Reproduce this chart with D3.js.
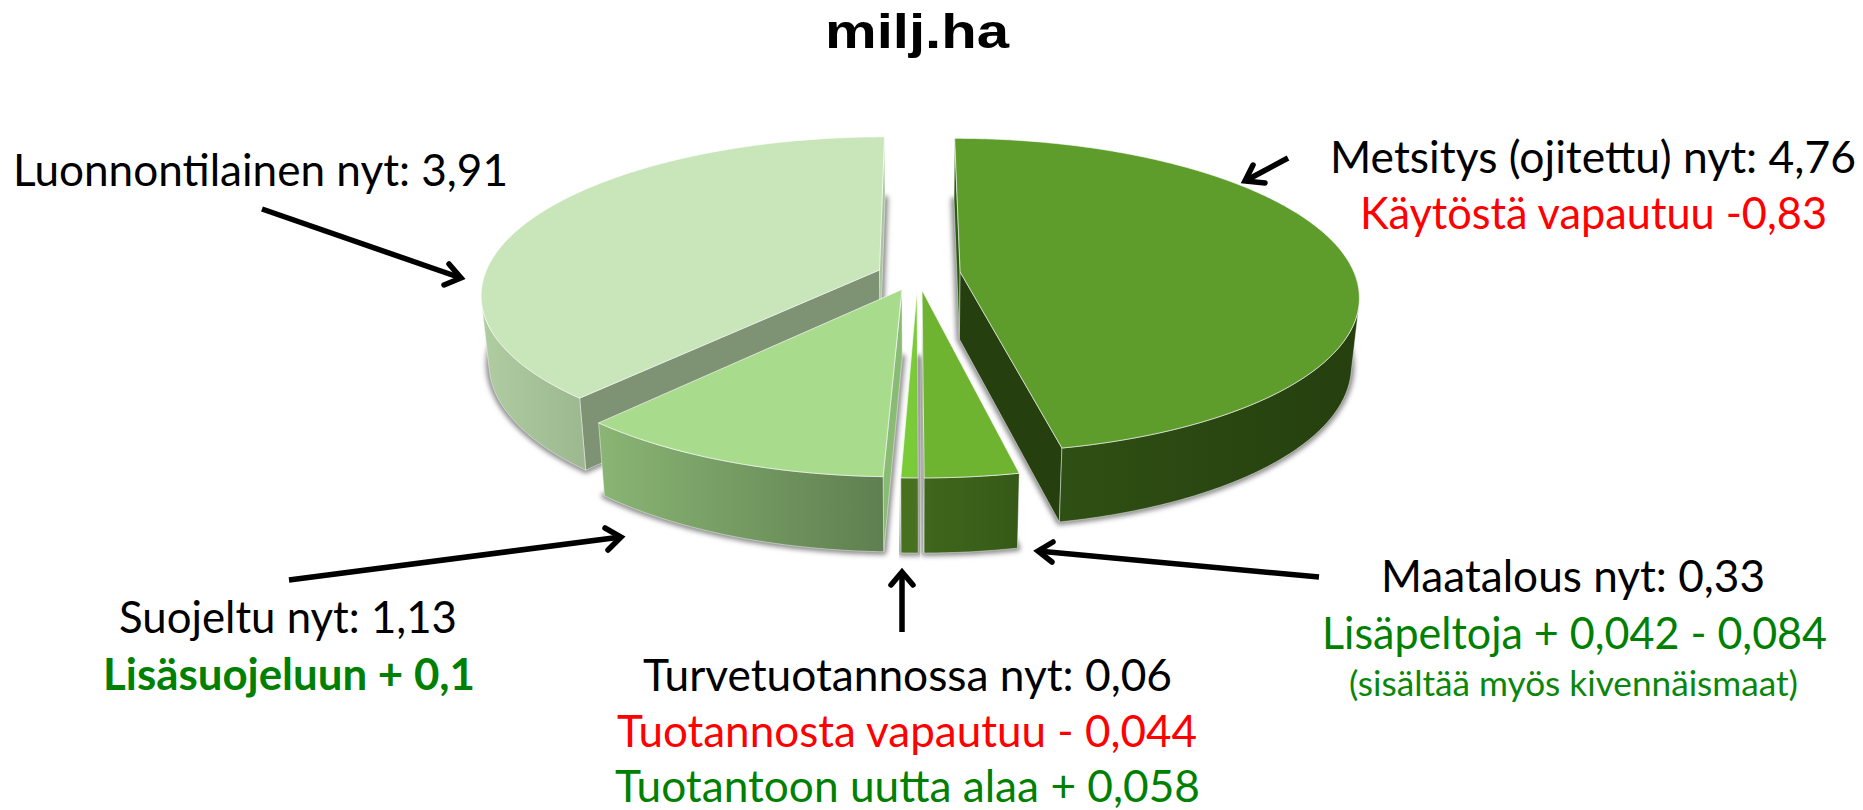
<!DOCTYPE html>
<html>
<head>
<meta charset="utf-8">
<title>milj.ha</title>
<script src="https://cdn.jsdelivr.net/npm/d3@7"></script>
<style>
html, body { margin: 0; padding: 0; background: #fff; overflow: hidden; }
svg { display: block; }
</style>
</head>
<body>
<div id="chart"></div>
<script>
// data, clockwise from 12 o'clock
const categories = ["Metsitys (ojitettu)", "Maatalous", "Turvetuotannossa", "Suojeltu", "Luonnontilainen"];
const values = [4.76, 0.33, 0.06, 1.13, 3.91];

const titleText = "milj.ha";
const labelTexts = [
    "Luonnontilainen nyt: 3,91",
    "Metsitys (ojitettu) nyt: 4,76",
    "Käytöstä vapautuu -0,83",
    "Suojeltu nyt: 1,13",
    "Lisäsuojeluun + 0,1",
    "Turvetuotannossa nyt: 0,06",
    "Tuotannosta vapautuu - 0,044",
    "Tuotantoon uutta alaa + 0,058",
    "Maatalous nyt: 0,33",
    "Lisäpeltoja + 0,042 - 0,084",
    "(sisältää myös kivennäismaat)"
];

// layout and styles
const width = 1863, height = 810;
const cx = 918, cy = 270, radiusX = 393, radiusY = 153, persp = 0.149;
const depth = 67, bottomShrink = 0.982;
const drawOrder = [4, 0, 3, 2, 1];
const explode = [[0.107, 0.013], [0.01, 0.13], [-0.0025, 0.13], [-0.04, 0.125], [-0.098, 0]];
const topColors = ["#5e9c2b", "#6fb431", "#7acb38", "#a8db8c", "#c8e6b9"];
const rimColors = [["#2f5014", "#253f0e"], ["#40661c", "#355a18"], ["#47711f", "#47711f"], ["#8ab574", "#5f7f50"], ["#b0cda2", "#9db98f"]];
const startWallColors = ["#2d5a12", "#3a6418", "#47711f", "#8abb74", "#7e9274"];
const endWallColors = ["#253f0e", "#355a18", "#47711f", "#7e9274", "#a9c59b"];

const labelStyle = [
    { x0: 13, x1: 508, y: 186, size: 44, color: "#000" },
    { x0: 1330, x1: 1856, y: 173, size: 44, color: "#000" },
    { x0: 1360, x1: 1827, y: 229, size: 44, color: "#f00" },
    { x0: 119, x1: 457, y: 633, size: 44, color: "#000" },
    { x0: 103, x1: 475, y: 690, size: 44, color: "#008000", weight: 700 },
    { x0: 643, x1: 1172, y: 691, size: 44, color: "#000" },
    { x0: 617, x1: 1197, y: 747, size: 44, color: "#f00" },
    { x0: 615, x1: 1200, y: 802, size: 44, color: "#008000" },
    { x0: 1381, x1: 1765, y: 592, size: 44, color: "#000" },
    { x0: 1322, x1: 1827, y: 649, size: 44, color: "#008000" },
    { x0: 1349, x1: 1798, y: 696, size: 34, color: "#0a860a" }
];

const arrows = [
    { from: [262, 209], tip: [461, 278], barbs: [[449, 264], [444, 285]] },
    { from: [1288, 158], tip: [1245, 181], barbs: [[1253, 165], [1265, 183]] },
    { from: [289, 580], tip: [621, 537], barbs: [[605, 528], [608, 550]] },
    { from: [902, 632], tip: [902, 572], barbs: [[891, 585], [913, 585]] },
    { from: [1319, 577], tip: [1038, 551], barbs: [[1053, 542], [1052, 562]] }
];

const svg = d3.select("#chart").append("svg")
    .attr("width", width)
    .attr("height", height);

const defs = svg.append("defs");
const shadow = defs.append("filter")
    .attr("id", "soft")
    .attr("x", "-10%").attr("y", "-10%")
    .attr("width", "120%").attr("height", "120%");
shadow.append("feGaussianBlur").attr("stdDeviation", 2.5);

// ground plane -> screen, a simple perspective through linear scales
const x = d3.scaleLinear().domain([-1, 1]).range([cx - radiusX, cx + radiusX]);
const y = d3.scaleLinear().domain([-1, 1]).range([cy - radiusY, cy + radiusY]);

function project(u, v) {
    const f = 1 / (1 - persp * v);
    return [x(u * f), y(v * f), f];
}
function topPoint(u, v) {
    const p = project(u, v);
    return [p[0], p[1]];
}
function bottomPoint(u, v) {
    const p = project(u, v);
    return [cx + (p[0] - cx) * bottomShrink, p[1] + depth * (1 + 0.6 * (p[2] - 1))];
}

const pie = d3.pie().sort(null).value(d => d).startAngle(0).endAngle(2 * Math.PI);
const arcs = pie(values);
const line = d3.line();
const closed = pts => line(pts) + "Z";

function quad(a, b) {
    return [topPoint(a[0], a[1]), topPoint(b[0], b[1]), bottomPoint(b[0], b[1]), bottomPoint(a[0], a[1])];
}

drawOrder.forEach(i => {
    const a = arcs[i];
    const [ox, oy] = explode[i];
    const steps = Math.max(2, Math.ceil((a.endAngle - a.startAngle) / 0.01));
    const rim = d3.range(steps + 1).map(s => {
        const t = a.startAngle + (a.endAngle - a.startAngle) * s / steps;
        return [ox + Math.sin(t), oy - Math.cos(t)];
    });
    const apex = [ox, oy];
    const g = svg.append("g").attr("class", "slice").attr("data-name", categories[i]);

    // shadow of the underside
    const under = [apex].concat(rim).map(p => bottomPoint(p[0], p[1]));
    g.append("path")
        .attr("d", closed(under))
        .attr("fill", "#8a8a8a")
        .attr("stroke", "#8a8a8a")
        .attr("stroke-width", 6)
        .attr("stroke-linejoin", "round")
        .attr("filter", "url(#soft)");

    // radial walls, only where they face the viewer
    const walls = [
        { a: apex, b: rim[0], color: startWallColors[i] },
        { a: rim[rim.length - 1], b: apex, color: endWallColors[i] }
    ];
    walls.forEach(w => {
        const q = quad(w.a, w.b);
        if (d3.polygonArea(q) > 0) {
            g.append("path")
                .attr("d", closed(q))
                .attr("fill", w.color)
                .attr("stroke", "#fff")
                .attr("stroke-opacity", 0.45)
                .attr("stroke-width", 1);
        }
    });

    // outer rim, visible part only
    const seen = rim.filter((p, k) => {
        const next = rim[k + 1] || p;
        const prev = rim[k - 1] || p;
        return d3.polygonArea(quad(prev, next)) > 0;
    });
    if (seen.length > 1) {
        const topEdge = seen.map(p => topPoint(p[0], p[1]));
        const botEdge = seen.map(p => bottomPoint(p[0], p[1])).reverse();
        const xs = topEdge.map(p => p[0]);
        const gradId = "rim" + i;
        const grad = defs.append("linearGradient")
            .attr("id", gradId)
            .attr("gradientUnits", "userSpaceOnUse")
            .attr("x1", d3.min(xs)).attr("x2", d3.max(xs))
            .attr("y1", 0).attr("y2", 0);
        grad.append("stop").attr("offset", 0).attr("stop-color", rimColors[i][0]);
        grad.append("stop").attr("offset", 1).attr("stop-color", rimColors[i][1]);
        g.append("path")
            .attr("d", closed(topEdge.concat(botEdge)))
            .attr("fill", `url(#${gradId})`)
            .attr("stroke", "#fff")
            .attr("stroke-opacity", 0.45)
            .attr("stroke-width", 1);
    }

    // top face
    g.append("path")
        .attr("d", closed([apex].concat(rim).map(p => topPoint(p[0], p[1]))))
        .attr("fill", topColors[i])
        .attr("stroke", "#fff")
        .attr("stroke-opacity", 0.65)
        .attr("stroke-width", 1)
        .attr("stroke-linejoin", "round");
});

// title
svg.append("text")
    .attr("x", 825)
    .attr("y", 48)
    .attr("font-family", "'Liberation Sans', Arial, sans-serif")
    .attr("font-weight", "bold")
    .attr("font-size", 48)
    .attr("textLength", 184)
    .attr("lengthAdjust", "spacingAndGlyphs")
    .attr("fill", "#000")
    .text(titleText);

// labels
labelTexts.forEach((t, i) => {
    const s = labelStyle[i];
    svg.append("text")
        .attr("x", s.x0)
        .attr("y", s.y)
        .attr("font-family", "Lato, 'Open Sans', sans-serif")
        .attr("font-size", s.size)
        .attr("font-weight", s.weight || 400)
        .attr("textLength", s.x1 - s.x0)
        .attr("lengthAdjust", "spacingAndGlyphs")
        .attr("fill", s.color)
        .text(t);
});

// arrows
arrows.forEach(a => {
    const g = svg.append("g")
        .attr("fill", "none")
        .attr("stroke", "#000")
        .attr("stroke-width", 5.5);
    g.append("path").attr("d", line([a.from, a.tip]));
    g.append("path")
        .attr("d", line([a.barbs[0], a.tip, a.barbs[1]]))
        .attr("stroke-linecap", "round")
        .attr("stroke-linejoin", "miter");
});
</script>
</body>
</html>
